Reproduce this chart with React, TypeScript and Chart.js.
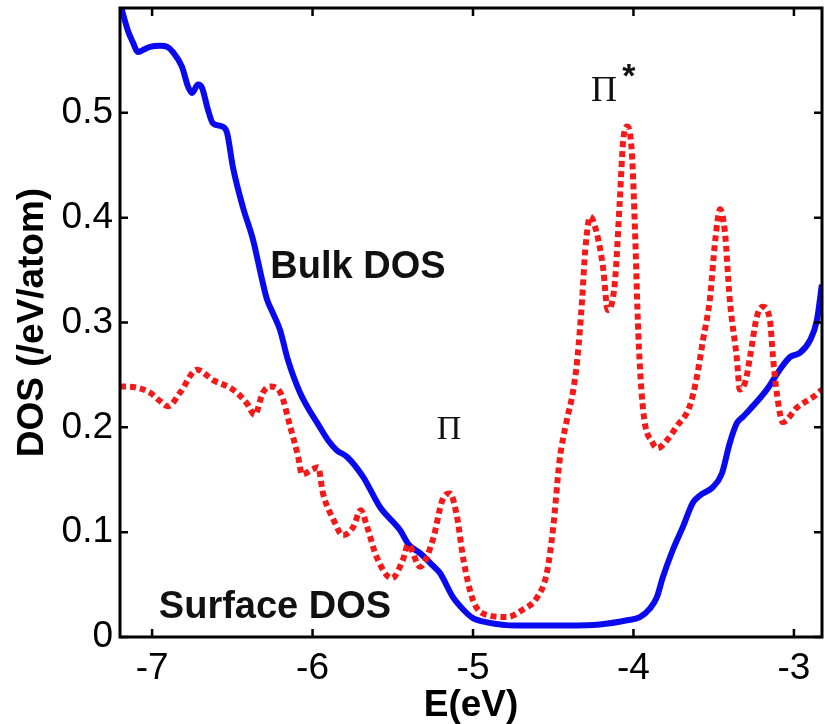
import React, { useEffect, useRef } from "react";
import { Chart, registerables } from "chart.js";

Chart.register(...registerables);

const bulkE = [
  -7.2, -7.188, -7.15, -7.119, -7.088, -7.057, -7.013, -6.95, -6.907, -6.87, -6.814, -6.776, -6.751,
  -6.714, -6.689, -6.652, -6.621, -6.564, -6.533, -6.496, -6.434, -6.371, -6.315, -6.284, -6.247,
  -6.203, -6.153, -6.078, -5.954, -5.9, -5.848, -5.786, -5.686, -5.58, -5.455, -5.4, -5.33, -5.25,
  -5.206, -5.125, -5.06, -5.0, -4.913, -4.73, -4.415, -4.21, -4.04, -3.96, -3.898, -3.854, -3.817,
  -3.755, -3.692, -3.63, -3.586, -3.505, -3.449, -3.4, -3.356, -3.318, -3.275, -3.169, -3.088,
  -3.025, -2.963, -2.9, -2.857, -2.826,
];
const bulkDOS = [
  0.605, 0.598, 0.578, 0.567, 0.558, 0.56, 0.563, 0.564, 0.563, 0.558, 0.544, 0.525, 0.519,
  0.527, 0.524, 0.503, 0.49, 0.487, 0.481, 0.448, 0.41, 0.379, 0.341, 0.322, 0.309,
  0.293, 0.264, 0.233, 0.2, 0.187, 0.178, 0.172, 0.153, 0.124, 0.102, 0.088, 0.08, 0.068,
  0.061, 0.038, 0.026, 0.018, 0.014, 0.011, 0.011, 0.012, 0.016, 0.019, 0.027, 0.038, 0.057,
  0.083, 0.105, 0.128, 0.135, 0.143, 0.156, 0.185, 0.204, 0.21, 0.217, 0.236, 0.255,
  0.267, 0.271, 0.283, 0.302, 0.336,
];

const surfE = [
  -7.2, -7.1, -7.013, -6.95, -6.9, -6.826, -6.72, -6.62, -6.496, -6.41, -6.36, -6.31, -6.265,
  -6.2, -6.14, -6.09, -6.066, -6.0, -5.966, -5.935, -5.87, -5.81, -5.746, -5.7, -5.66, -5.6,
  -5.505, -5.436, -5.405, -5.33, -5.25, -5.19, -5.144, -5.1, -5.06, -5.0, -4.913, -4.79, -4.69,
  -4.6, -4.54, -4.5, -4.46, -4.415, -4.378, -4.35, -4.32, -4.3, -4.27, -4.23, -4.19, -4.16,
  -4.116, -4.085, -4.065, -4.04, -4.01, -3.99, -3.97, -3.94, -3.88, -3.85, -3.79, -3.73, -3.65,
  -3.605, -3.567, -3.524, -3.49, -3.46, -3.43, -3.4, -3.356, -3.337, -3.3, -3.275, -3.23, -3.194,
  -3.15, -3.13, -3.107, -3.07, -2.98, -2.88, -2.825,
];
const surfDOS = [
  0.239, 0.238, 0.233, 0.225, 0.22, 0.233, 0.255, 0.245, 0.236, 0.223, 0.212, 0.233, 0.239,
  0.233, 0.201, 0.172, 0.155, 0.16, 0.162, 0.137, 0.112, 0.097, 0.105, 0.121, 0.105, 0.076,
  0.056, 0.074, 0.088, 0.067, 0.093, 0.131, 0.137, 0.115, 0.074, 0.035, 0.021, 0.019, 0.026,
  0.038, 0.061, 0.105, 0.169, 0.207, 0.233, 0.265, 0.322, 0.37, 0.401, 0.386, 0.353, 0.312,
  0.338, 0.417, 0.472, 0.487, 0.462, 0.386, 0.29, 0.217, 0.185, 0.18, 0.188, 0.201, 0.22,
  0.248, 0.283, 0.322, 0.379, 0.408, 0.386, 0.322, 0.266, 0.236, 0.245, 0.266, 0.306, 0.315,
  0.303, 0.266, 0.233, 0.205, 0.219, 0.229, 0.236,
];

const xTicks = [-7, -6, -5, -4, -3];
const yTicks = [0, 0.1, 0.2, 0.3, 0.4, 0.5];
const xRange = [-7.2, -2.825];
const yRange = [0, 0.6];

const annotations = [
  { text: "Bulk DOS", x: -5.717, y: 0.352, font: "bold 38px 'Liberation Sans', Arial, sans-serif" },
  { text: "Surface DOS", x: -6.234, y: 0.028, font: "bold 38px 'Liberation Sans', Arial, sans-serif" },
  { text: "Π", x: -5.15, y: 0.197, font: "34px 'Liberation Serif', 'Times New Roman', serif" },
  { text: "Π", x: -4.184, y: 0.52, font: "36px 'Liberation Serif', 'Times New Roman', serif" },
  { text: "*", x: -4.029, y: 0.534, font: "bold 34px 'Liberation Sans', Arial, sans-serif" },
];

const FONT = "'Liberation Sans', Arial, Helvetica, sans-serif";

const framePlugin = {
  id: "frame",
  afterDatasetsDraw(chart: any) {
    const { ctx, chartArea: a, scales } = chart;
    const xs = scales.x;
    const ys = scales.y;
    ctx.save();
    ctx.strokeStyle = "#000";
    ctx.lineWidth = 3;
    ctx.strokeRect(a.left, a.top, a.right - a.left, a.bottom - a.top);
    ctx.lineWidth = 2.5;
    const tl = 8;
    ctx.beginPath();
    xTicks.forEach((v) => {
      const px = xs.getPixelForValue(v);
      ctx.moveTo(px, a.bottom);
      ctx.lineTo(px, a.bottom - tl);
      ctx.moveTo(px, a.top);
      ctx.lineTo(px, a.top + tl);
    });
    yTicks.forEach((v) => {
      const py = ys.getPixelForValue(v);
      ctx.moveTo(a.left, py);
      ctx.lineTo(a.left + tl, py);
      ctx.moveTo(a.right, py);
      ctx.lineTo(a.right - tl, py);
    });
    ctx.stroke();
    ctx.fillStyle = "#111";
    ctx.textAlign = "center";
    ctx.textBaseline = "middle";
    annotations.forEach((an) => {
      ctx.font = an.font;
      ctx.fillText(an.text, xs.getPixelForValue(an.x), ys.getPixelForValue(an.y));
    });
    ctx.restore();
  },
};

export default function App() {
  const ref = useRef<HTMLCanvasElement | null>(null);
  useEffect(() => {
    if (!ref.current) return;
    const chart = new Chart(ref.current, {
      type: "line",
      data: {
        datasets: [
          {
            label: "Surface DOS",
            data: surfE.map((e, i) => ({ x: e, y: surfDOS[i] })),
            borderColor: "#f51a1a",
            borderWidth: 6,
            borderDash: [6, 4],
            borderCapStyle: "butt",
            pointRadius: 0,
            cubicInterpolationMode: "monotone",
            fill: false,
          },
          {
            label: "Bulk DOS",
            data: bulkE.map((e, i) => ({ x: e, y: bulkDOS[i] })),
            borderColor: "#0a0af0",
            borderWidth: 6,
            pointRadius: 0,
            cubicInterpolationMode: "monotone",
            fill: false,
          },
        ],
      },
      options: {
        animation: false,
        responsive: false,
        layout: { padding: { top: 8, right: 3, left: 0, bottom: 0 } },
        plugins: { legend: { display: false }, tooltip: { enabled: false } },
        scales: {
          x: {
            type: "linear",
            min: xRange[0],
            max: xRange[1],
            afterBuildTicks: (axis: any) => {
              axis.ticks = xTicks.map((v) => ({ value: v }));
            },
            afterFit: (axis: any) => {
              axis.height = 87;
              axis.paddingLeft = 0;
              axis.paddingRight = 0;
              axis.paddingTop = 0;
              axis.paddingBottom = 0;
            },
            grid: { display: false, drawTicks: false },
            border: { display: false },
            ticks: {
              color: "#000",
              padding: 10,
              font: { family: FONT, size: 37 },
              callback: (v: any) => String(v),
            },
            title: {
              display: true,
              text: "E(eV)",
              color: "#000",
              font: { family: FONT, size: 37, weight: "bold", lineHeight: 1 },
              padding: { top: 0, bottom: 0 },
            },
          },
          y: {
            type: "linear",
            min: yRange[0],
            max: yRange[1],
            afterBuildTicks: (axis: any) => {
              axis.ticks = yTicks.map((v) => ({ value: v }));
            },
            afterFit: (axis: any) => {
              axis.width = 120;
              axis.paddingLeft = 0;
              axis.paddingRight = 0;
              axis.paddingTop = 0;
              axis.paddingBottom = 0;
            },
            grid: { display: false, drawTicks: false },
            border: { display: false },
            ticks: {
              color: "#000",
              padding: 7,
              font: { family: FONT, size: 37 },
              callback: (v: any) => String(Math.round(v * 10) / 10),
            },
            title: {
              display: true,
              text: "DOS (/eV/atom)",
              color: "#000",
              font: { family: FONT, size: 37, weight: "bold", lineHeight: 1 },
              padding: { top: 14, bottom: 0 },
            },
          },
        },
      },
      plugins: [framePlugin],
    });
    return () => chart.destroy();
  }, []);
  return (
    <canvas
      ref={ref}
      width={825}
      height={724}
      style={{ position: "fixed", left: 0, top: 0, width: 825, height: 724, display: "block", background: "#fff" }}
    />
  );
}
